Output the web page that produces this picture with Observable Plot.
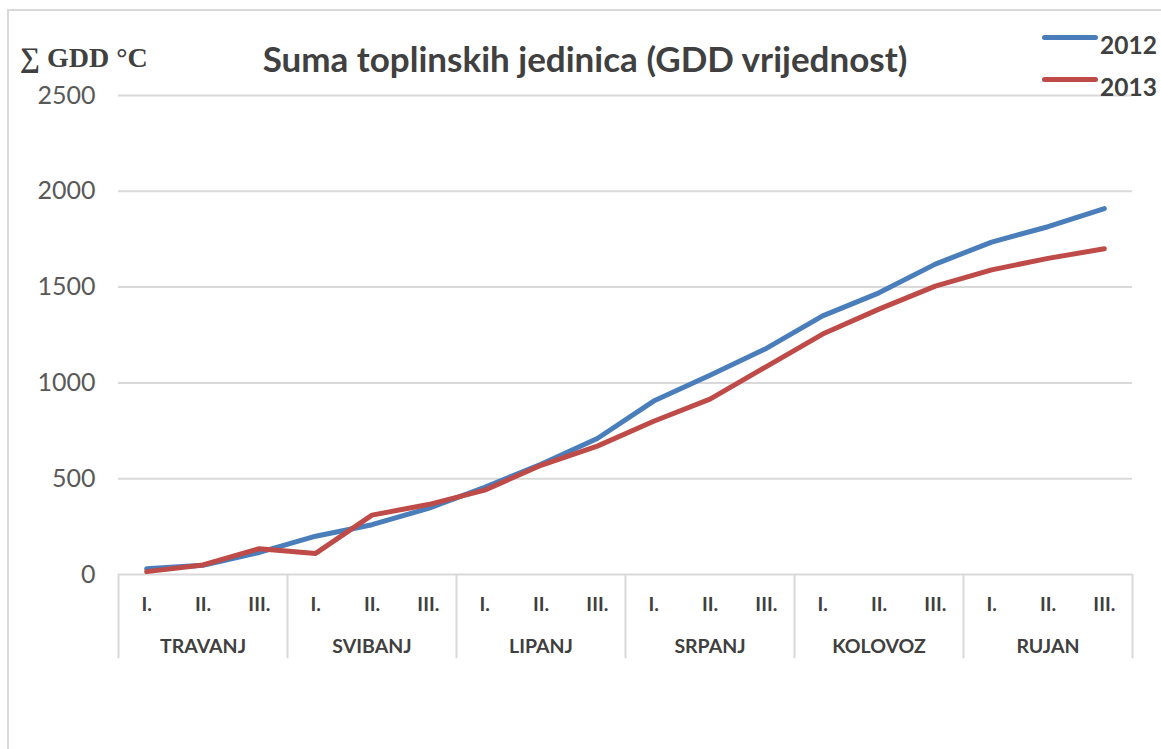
<!DOCTYPE html>
<html>
<head>
<meta charset="utf-8">
<script src="https://cdn.jsdelivr.net/npm/d3@7"></script>
<script src="https://cdn.jsdelivr.net/npm/@observablehq/plot@0.6"></script>
<style>
  html, body { margin: 0; padding: 0; background: #fff; }
  #wrap { position: relative; width: 1161px; height: 749px; overflow: hidden; font-family: Lato, "Open Sans", sans-serif; }
  #frame { position: absolute; left: 7px; top: 9px; width: 1200px; height: 800px; border-left: 2px solid #d9d9d9; border-top: 2px solid #d9d9d9; }
  #chart { position: absolute; left: 0; top: 0; }
  #title { position: absolute; left: 0; width: 1170px; top: 37px; text-align: center; font-weight: bold; font-size: 35px; line-height: 42px; color: #404040; }
  #ylabel { position: absolute; left: 20px; top: 42px; font-family: "Liberation Serif", "DejaVu Serif", serif; font-weight: bold; font-size: 28px; line-height: 32px; color: #404040; }
  .leg { position: absolute; left: 1042px; display: flex; align-items: center; font-weight: bold; font-size: 24.5px; color: #404040; }
  .leg span.sw { display: inline-block; width: 56px; height: 5px; border-radius: 3px; margin-right: 2px; }
</style>
</head>
<body>
<div id="wrap">
  <div id="frame"></div>
  <div id="chart"></div>
  <div id="title">Suma toplinskih jedinica (GDD vrijednost)</div>
  <div id="ylabel">∑ GDD °C</div>
  <div class="leg" style="top:23px"><span class="sw" style="background:#4a7ebb"></span><span style="position:relative;top:7px">2012</span></div>
  <div class="leg" style="top:65px"><span class="sw" style="background:#be4b48"></span><span style="position:relative;top:7px">2013</span></div>
</div>
<script>
const periods = ["I.", "II.", "III."];
const months = ["TRAVANJ", "SVIBANJ", "LIPANJ", "SRPANJ", "KOLOVOZ", "RUJAN"];
const years = ["2012", "2013"];
const gdd2012 = [30, 48, 115, 200, 260, 345, 455, 575, 710, 905, 1040, 1180, 1350, 1470, 1620, 1735, 1815, 1910];
const gdd2013 = [15, 50, 135, 110, 310, 365, 440, 570, 670, 800, 915, 1085, 1255, 1385, 1505, 1590, 1650, 1700];
const yTicks = [0, 500, 1000, 1500, 2000, 2500];
const colors = ["#4a7ebb", "#be4b48"];

const rows = months.flatMap((m, mi) => periods.map((p, pi) => ({ idx: mi * 3 + pi, month: m, period: p })));
const data = [
  ...rows.map((r, i) => ({ ...r, year: years[0], value: gdd2012[i] })),
  ...rows.map((r, i) => ({ ...r, year: years[1], value: gdd2013[i] }))
];
const bounds = d3.range(0, months.length * 3 + 1, 3);

const chart = Plot.plot({
  width: 1161,
  height: 749,
  marginLeft: 118,
  marginRight: 29,
  marginTop: 95,
  marginBottom: 175,
  style: { fontFamily: "Lato, 'Open Sans', sans-serif", background: "transparent" },
  x: { domain: [0, months.length * 3], axis: null },
  y: { domain: [0, 2500], axis: null },
  color: { domain: years, range: colors },
  marks: [
    Plot.ruleY(yTicks, { stroke: "#d9d9d9", strokeWidth: 2 }),
    Plot.text(yTicks, { x: 0, y: d => d, text: d => String(d), textAnchor: "end", dx: -23, fontSize: 25, fill: "#595959" }),
    Plot.ruleX(bounds, { x: d => d, y1: 0, y2: -440, stroke: "#d9d9d9", strokeWidth: 2 }),
    Plot.text(rows, { x: d => d.idx + 0.5, y: 0, dy: 30, text: "period", fontSize: 19.5, fontWeight: "bold", fill: "#404040" }),
    Plot.text(months, { x: (d, i) => i * 3 + 1.5, y: 0, dy: 72, text: d => d, fontSize: 19.5, fontWeight: "bold", fill: "#404040" }),
    Plot.line(data, { x: d => d.idx + 0.5, y: "value", z: "year", stroke: "year", strokeWidth: 5, strokeLinejoin: "round", strokeLinecap: "round" })
  ]
});
document.getElementById("chart").appendChild(chart);
</script>
</body>
</html>
